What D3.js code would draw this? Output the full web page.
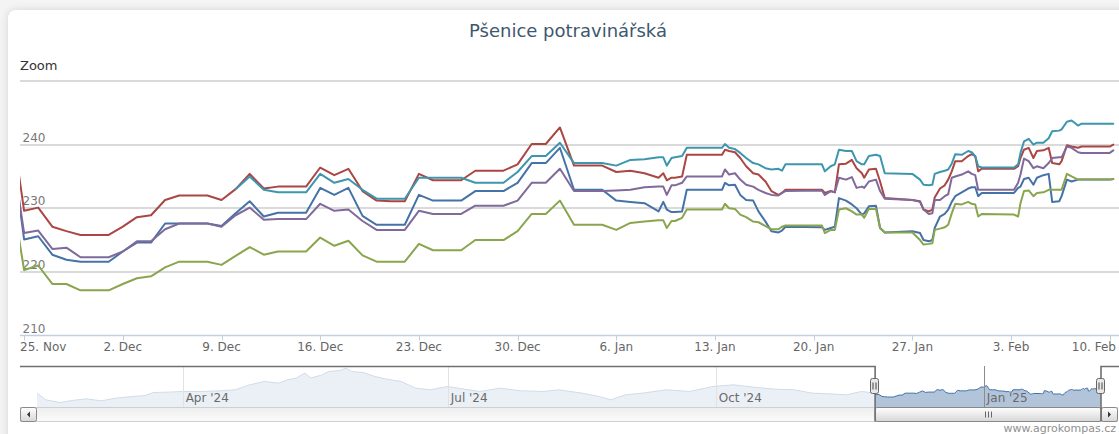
<!DOCTYPE html>
<html>
<head>
<meta charset="utf-8">
<script src="https://cdn.jsdelivr.net/npm/d3@7"></script>
<style>
    body { margin: 0; background: #f4f4f4; font-family: "DejaVu Sans", Verdana, sans-serif; overflow: hidden; }
    #card { position: absolute; left: 8px; top: 10px; width: 1150px; height: 470px; background: #fff;
            border-radius: 8px; box-shadow: 0 0 9px rgba(0,0,0,0.13); }
    #chart { position: absolute; left: 0; top: 0; }
</style>
</head>
<body>
<div id="card"></div>
<svg id="chart" width="1119" height="434"></svg>
<script>
// shared time stamps of the zoomed series (UTC)
var times = [
    "2024-11-24","2024-11-25","2024-11-26","2024-11-27","2024-11-28","2024-11-29","2024-11-30",
    "2024-12-01","2024-12-02","2024-12-03","2024-12-04","2024-12-05","2024-12-06","2024-12-07",
    "2024-12-08","2024-12-09","2024-12-10","2024-12-11","2024-12-12","2024-12-13","2024-12-14",
    "2024-12-15","2024-12-16","2024-12-17","2024-12-18","2024-12-19","2024-12-20","2024-12-21",
    "2024-12-22","2024-12-23","2024-12-24","2024-12-25","2024-12-26","2024-12-27","2024-12-28",
    "2024-12-29","2024-12-30","2024-12-31","2025-01-01","2025-01-02","2025-01-03","2025-01-04",
    "2025-01-05","2025-01-06","2025-01-07","2025-01-08","2025-01-09",
    "2025-01-09 08:00","2025-01-09 14:00","2025-01-09 22:00","2025-01-10 04:00","2025-01-10 16:00","2025-01-11 00:00",
    "2025-01-13 12:00","2025-01-13 17:00","2025-01-14 00:00","2025-01-14 10:00","2025-01-14 19:00",
    "2025-01-15 05:00","2025-01-15 17:00","2025-01-16 02:00","2025-01-16 14:00","2025-01-17 00:00",
    "2025-01-17 12:00","2025-01-17 18:00","2025-01-18 00:00","2025-01-20 14:00","2025-01-20 19:00",
    "2025-01-21 05:00","2025-01-21 12:00","2025-01-21 19:00","2025-01-22 07:00","2025-01-22 17:00",
    "2025-01-23 01:00","2025-01-23 10:00","2025-01-23 14:00","2025-01-23 22:00","2025-01-24 10:00",
    "2025-01-24 17:00","2025-01-25 01:00","2025-01-27 00:00","2025-01-27 13:00","2025-01-27 19:00",
    "2025-01-28 04:00","2025-01-28 10:00","2025-01-28 14:00","2025-01-28 23:00","2025-01-29 07:00",
    "2025-01-29 13:00","2025-01-29 19:00","2025-01-30 01:00","2025-01-30 12:00","2025-01-30 23:00",
    "2025-01-31 05:00","2025-01-31 11:00","2025-01-31 16:00","2025-01-31 22:00","2025-02-03 05:00",
    "2025-02-03 12:00","2025-02-03 16:00","2025-02-03 22:00","2025-02-04 06:00","2025-02-04 14:00",
    "2025-02-04 20:00","2025-02-05 07:00","2025-02-05 16:00","2025-02-05 22:00","2025-02-06 10:00",
    "2025-02-06 14:00","2025-02-06 23:00","2025-02-07 07:00","2025-02-07 18:00","2025-02-08 00:00",
    "2025-02-10 00:00","2025-02-10 06:00"
];

var blueValues = [
    241.6,225.1,225.6,222.7,221.9,221.6,221.6,221.6,223.2,224.6,224.6,227.6,227.6,227.6,227.6,227.2,
    229.2,231.1,228.7,229.3,229.3,229.3,233.2,232.1,233.2,228.8,227.4,227.4,227.4,232.1,231.2,231.2,
    231.2,232.7,232.7,232.7,234.0,237.1,237.1,239.5,232.9,232.9,232.9,231.2,231.0,230.8,229.5,
    231.0,229.8,229.4,229.4,229.5,232.9,
    232.9,234.0,233.6,233.7,232.1,
    231.3,231.2,229.5,227.9,226.4,
    226.2,226.5,227.1,227.0,226.6,
    226.9,227.1,231.6,231.2,230.6,
    230.0,229.0,229.2,230.3,230.4,
    226.9,226.2,226.4,226.1,225.0,
    224.8,225.0,226.9,228.7,229.1,
    229.8,231.0,231.9,232.5,233.1,
    233.3,233.3,231.9,232.4,232.4,
    233.2,233.4,234.6,234.8,233.7,
    234.8,235.2,235.4,231.0,231.1,
    231.9,234.5,234.2,234.5,234.5,
    234.5,234.6
];

var redValues = [
    245.1,229.6,230.1,227.1,226.4,225.8,225.8,225.8,227.1,228.6,228.9,231.3,232.0,232.0,232.0,231.3,
    233.0,235.4,233.1,233.4,233.4,233.4,236.4,235.2,236.2,232.7,231.2,231.1,231.1,235.4,234.4,234.4,
    234.4,235.9,235.9,235.9,236.9,240.1,240.1,242.7,236.7,236.7,236.7,235.7,235.9,235.5,234.8,
    235.5,234.4,234.8,234.8,235.0,238.4,
    238.4,239.2,239.0,238.8,237.9,
    236.6,235.5,235.3,234.2,232.7,
    232.1,232.4,232.9,232.9,232.4,
    232.7,232.5,236.9,237.0,237.6,
    236.3,235.5,234.8,236.1,236.2,
    234.2,231.6,231.3,231.1,229.8,
    229.5,229.8,231.7,233.1,233.6,
    234.5,235.8,237.4,237.4,238.2,
    238.5,238.2,235.8,236.2,236.2,
    236.6,237.9,239.2,239.5,237.9,
    239.0,239.1,239.5,237.1,236.9,
    237.4,239.9,239.7,239.5,239.7,
    239.7,240.0
];

var greenValues = [
    234.0,220.3,221.0,218.1,218.1,217.1,217.1,217.1,218.1,219.0,219.3,220.7,221.6,221.6,221.6,221.1,
    222.5,223.9,222.7,223.2,223.2,223.2,225.4,224.1,224.9,222.6,221.6,221.6,221.6,224.4,223.4,223.4,
    223.4,225.0,225.0,225.0,226.4,229.1,229.1,231.2,227.4,227.4,227.4,226.6,227.7,227.9,228.1,
    228.1,226.9,228.0,228.0,228.5,229.8,
    229.8,230.7,230.0,229.9,229.0,
    228.6,227.9,227.8,227.2,226.7,
    226.7,227.1,227.3,227.3,226.1,
    226.6,226.6,229.8,230.0,229.5,
    229.0,229.0,228.5,229.9,229.9,
    226.9,226.2,226.2,225.0,224.3,
    224.4,224.5,226.6,226.8,227.0,
    227.4,229.2,230.7,230.6,231.0,
    230.7,230.6,228.7,229.1,229.0,
    228.7,230.8,232.7,232.8,231.9,
    232.4,232.5,232.9,232.9,232.9,
    232.9,235.4,235.0,234.5,234.5,
    234.5,234.6
];

var purpleValues = [
    240.9,226.1,226.5,223.6,223.8,222.3,222.3,222.3,223.2,224.8,224.8,226.7,227.6,227.6,227.6,227.1,
    228.9,230.1,228.2,228.3,228.3,228.3,230.7,229.6,229.8,228.0,226.6,226.6,226.6,229.6,229.1,229.1,
    229.1,230.4,230.4,230.4,231.2,234.0,234.0,236.2,232.7,232.7,232.7,232.8,232.9,233.3,233.4,
    233.4,232.1,233.6,233.6,234.0,235.0,
    235.0,236.1,235.3,235.5,234.5,
    233.7,233.4,232.9,232.4,232.1,
    232.0,232.4,232.7,232.8,232.1,
    232.7,232.5,234.8,234.5,234.9,
    233.2,233.4,233.2,234.2,234.5,
    232.7,231.5,231.3,231.0,229.8,
    229.1,229.2,231.3,231.3,231.9,
    232.2,234.8,235.0,235.3,235.8,
    235.4,235.2,232.9,232.9,232.9,
    234.0,235.3,237.8,237.4,236.3,
    236.6,236.3,237.1,237.9,238.0,
    238.0,239.7,239.5,238.8,238.7,
    238.7,239.1
];

var cyanValues = [
    null,null,null,null,null,null,null,null,null,null,null,null,null,null,null,null,
    233.0,235.0,232.9,232.5,232.5,232.5,235.4,234.0,234.6,232.9,231.5,231.5,231.5,234.8,234.8,234.8,
    234.8,234.0,234.0,234.0,235.7,238.2,238.2,240.3,237.1,237.1,237.1,236.7,237.6,237.7,238.0,
    238.0,236.7,237.9,238.0,238.2,239.5,
    239.5,240.1,239.5,239.3,238.7,
    237.9,237.1,236.9,236.3,236.1,
    236.2,235.9,236.9,236.9,235.8,
    236.6,236.9,239.2,239.0,239.0,
    237.4,236.9,236.9,238.2,238.4,
    238.2,235.5,235.4,234.5,233.7,
    233.6,233.7,235.4,235.7,235.9,
    236.1,237.0,238.5,238.4,239.0,
    238.8,238.2,236.6,236.4,236.4,
    236.9,238.7,240.5,240.9,240.0,
    240.3,240.3,241.0,242.1,242.2,
    242.4,243.6,243.8,243.0,243.3,
    243.3,243.3
];

// longer history of the first series, shown only in the navigator
var navTimes = [
    "2024-02-11","2024-02-14","2024-02-19","2024-02-23","2024-02-28","2024-03-04","2024-03-09",
    "2024-03-15","2024-03-19","2024-03-22","2024-03-27","2024-04-01","2024-04-07","2024-04-14",
    "2024-04-19","2024-04-24","2024-04-29","2024-05-04","2024-05-07","2024-05-10","2024-05-13",
    "2024-05-15","2024-05-19","2024-05-21","2024-05-25","2024-05-27","2024-05-29","2024-06-02",
    "2024-06-06","2024-06-10","2024-06-15","2024-06-20","2024-06-25","2024-07-01","2024-07-06",
    "2024-07-12","2024-07-19","2024-07-26","2024-08-03","2024-08-08","2024-08-16","2024-08-22",
    "2024-08-26","2024-08-31","2024-09-06","2024-09-14","2024-09-22","2024-09-30","2024-10-07",
    "2024-10-14","2024-10-21","2024-10-28","2024-11-03","2024-11-11","2024-11-15","2024-11-20",
    "2024-11-23"
];
var navValues = [
    227.7,217.2,213.0,216.1,218.8,215.6,219.8,
    222.4,223.9,228.6,229.2,230.2,230.2,231.3,
    232.8,240.6,245.8,243.3,248.4,251.1,258.9,
    251.1,256.3,261.4,263.0,266.7,261.4,259.8,
    253.6,249.5,245.8,235.4,232.8,238.0,234.4,
    230.2,235.4,231.3,230.2,232.8,227.7,222.4,
    217.2,225.0,227.7,232.8,230.2,238.0,240.6,
    237.0,233.9,232.8,227.7,226.1,225.0,230.2,
    228.6
];

var yTicks = [210, 220, 230, 240, 250];
var viewRange = ["2024-11-24 17:00", "2025-02-10 14:00"];

var parseTime = d3.utcParse("%Y-%m-%d %H:%M");
function toDate(s) { return parseTime(s.length > 10 ? s : s + " 00:00"); }

var svg = d3.select("#chart");
var plot = {left: 20, right: 1118, top: 81, bottom: 335.5};

var x = d3.scaleUtc()
    .domain(viewRange.map(toDate))
    .range([plot.left, plot.right]);
var y = d3.scaleLinear()
    .domain([210, 250])
    .range([plot.bottom, plot.top]);

// title and range selector label
svg.append("text")
    .attr("x", 568).attr("y", 37)
    .attr("text-anchor", "middle")
    .style("font-size", "18px")
    .style("fill", "#3E576F")
    .text("Pšenice potravinářská");

svg.append("text")
    .attr("x", 20).attr("y", 70)
    .style("font-size", "13px")
    .style("fill", "#333")
    .text("Zoom");

// grid lines
svg.append("g")
    .selectAll("line")
    .data(yTicks.filter(function(d){ return d > 210; }))
    .enter().append("line")
    .attr("x1", plot.left).attr("x2", 1119)
    .attr("y1", function(d){ return Math.round(y(d)) - 1; })
    .attr("y2", function(d){ return Math.round(y(d)) - 1; })
    .attr("stroke", "#dadada")
    .attr("stroke-width", 2)
    .attr("transform", "translate(0,1)");

svg.append("g")
    .selectAll("text")
    .data(yTicks.filter(function(d){ return d < 250; }))
    .enter().append("text")
    .attr("x", 22.5)
    .attr("y", function(d){ return y(d) - 3; })
    .style("font-size", "12px")
    .style("fill", "#777")
    .text(function(d){ return d; });

// x axis
var xAxis = svg.append("g").attr("class", "x-axis");
xAxis.append("line")
    .attr("x1", plot.left).attr("x2", 1119)
    .attr("y1", plot.bottom).attr("y2", plot.bottom)
    .attr("stroke", "#C0D0E0").attr("stroke-width", 1.5);

var xTicks = x.ticks(d3.utcMonday.every(1));
var fmt = d3.utcFormat("%-d. %b");
xAxis.selectAll(".tick")
    .data(xTicks)
    .enter().append("line")
    .attr("x1", function(d){ return Math.round(x(d)) + 0.5; })
    .attr("x2", function(d){ return Math.round(x(d)) + 0.5; })
    .attr("y1", plot.bottom).attr("y2", plot.bottom + 5)
    .attr("stroke", "#C0D0E0");

xAxis.selectAll(".lbl")
    .data(xTicks)
    .enter().append("text")
    .attr("y", 351)
    .style("font-size", "12px")
    .style("fill", "#666")
    .text(function(d){ return fmt(d); })
    .each(function(d){
        var w = this.getComputedTextLength();
        var cx = x(d) - w / 2;
        cx = Math.max(plot.left, Math.min(cx, 1116 - w));
        d3.select(this).attr("x", cx);
    });

// series lines
svg.append("clipPath").attr("id", "plot-clip")
    .append("rect")
    .attr("x", plot.left).attr("y", plot.top - 4)
    .attr("width", plot.right - plot.left).attr("height", plot.bottom - plot.top + 4);

var dates = times.map(toDate);
var seriesList = [
    {color: "#4572A7", values: blueValues},
    {color: "#AA4643", values: redValues},
    {color: "#89A54E", values: greenValues},
    {color: "#80699B", values: purpleValues},
    {color: "#3D96AE", values: cyanValues}
];

var line = d3.line()
    .defined(function(d){ return d[1] != null; })
    .x(function(d){ return x(d[0]); })
    .y(function(d){ return y(d[1]); });

var linesG = svg.append("g").attr("clip-path", "url(#plot-clip)");
seriesList.forEach(function(s){
    linesG.append("path")
        .datum(dates.map(function(t, i){ return [t, s.values[i]]; }))
        .attr("d", line)
        .attr("fill", "none")
        .attr("stroke", s.color)
        .attr("stroke-width", 2)
        .attr("stroke-linejoin", "round")
        .attr("stroke-linecap", "round");
});

// navigator
var nav = {left: 37, right: 1101, top: 366, bottom: 407};
var navData = navTimes.map(function(t, i){ return [toDate(t), navValues[i]]; })
    .concat(dates.map(function(t, i){ return [t, blueValues[i]]; }));

var nx = d3.scaleUtc()
    .domain(d3.extent(navData, function(d){ return d[0]; }))
    .range([nav.left, nav.right]);
var ny = d3.scaleLinear()
    .domain([206, 270])
    .range([nav.bottom, nav.top]);

var navG = svg.append("g");
navG.append("path")
    .datum(navData)
    .attr("d", d3.area()
        .x(function(d){ return nx(d[0]); })
        .y0(nav.bottom)
        .y1(function(d){ return ny(d[1]); }))
    .attr("fill", "#4572A7")
    .attr("fill-opacity", 0.42);

navG.append("path")
    .datum(navData)
    .attr("d", d3.line()
        .x(function(d){ return nx(d[0]); })
        .y(function(d){ return ny(d[1]); }))
    .attr("fill", "none")
    .attr("stroke", "#4572A7")
    .attr("stroke-width", 1);

var navTicks = nx.ticks(d3.utcMonth.every(3));
navG.selectAll(".ngrid")
    .data(navTicks)
    .enter().append("line")
    .attr("x1", function(d){ return Math.round(nx(d)) + 0.5; })
    .attr("x2", function(d){ return Math.round(nx(d)) + 0.5; })
    .attr("y1", nav.top).attr("y2", nav.bottom)
    .attr("stroke", "#8c8c8c");

var selStart = nx(x.domain()[0]);
var selEnd = Math.min(nx(x.domain()[1]), nav.right);

// mask over the unselected parts
navG.append("rect")
    .attr("x", nav.left).attr("y", nav.top)
    .attr("width", selStart - nav.left).attr("height", nav.bottom - nav.top)
    .attr("fill", "rgba(255,255,255,0.75)");
navG.append("rect")
    .attr("x", selEnd).attr("y", nav.top)
    .attr("width", Math.max(0, nav.right - selEnd)).attr("height", nav.bottom - nav.top)
    .attr("fill", "rgba(255,255,255,0.75)");

var navFmt = d3.utcFormat("%b '%y");
navG.selectAll(".nlbl")
    .data(navTicks)
    .enter().append("text")
    .attr("x", function(d){ return nx(d) + 3; })
    .attr("y", 402)
    .style("font-size", "12px")
    .style("fill", "#6a6a6a")
    .text(function(d){ return navFmt(d); });

// scrollbar
var defs = svg.append("defs");
var grad = defs.append("linearGradient").attr("id", "btn-grad")
    .attr("x1", 0).attr("y1", 0).attr("x2", 0).attr("y2", 1);
grad.append("stop").attr("offset", "0%").attr("stop-color", "#ffffff");
grad.append("stop").attr("offset", "100%").attr("stop-color", "#d6d6d6");
var trackGrad = defs.append("linearGradient").attr("id", "track-grad")
    .attr("x1", 0).attr("y1", 0).attr("x2", 0).attr("y2", 1);
trackGrad.append("stop").attr("offset", "0%").attr("stop-color", "#eeeeee");
trackGrad.append("stop").attr("offset", "100%").attr("stop-color", "#fbfbfb");

var sb = {top: 407.5, h: 14};
navG.append("rect")
    .attr("x", plot.left + 0.5).attr("y", sb.top)
    .attr("width", plot.right - plot.left - 1).attr("height", sb.h)
    .attr("fill", "url(#track-grad)")
    .attr("stroke", "#cfcfcf");

navG.append("rect")
    .attr("x", selStart).attr("y", sb.top)
    .attr("width", selEnd - selStart).attr("height", sb.h)
    .attr("rx", 2)
    .attr("fill", "url(#btn-grad)")
    .attr("stroke", "#888");

var gripX = (selStart + selEnd) / 2;
[-3, 0, 3].forEach(function(dx){
    navG.append("line")
        .attr("x1", Math.round(gripX + dx) + 0.5).attr("x2", Math.round(gripX + dx) + 0.5)
        .attr("y1", sb.top + 4).attr("y2", sb.top + 10)
        .attr("stroke", "#666");
});

[[plot.left + 0.5, -1], [nav.right + 0.5, 1]].forEach(function(b){
    navG.append("rect")
        .attr("x", b[0]).attr("y", sb.top)
        .attr("width", 16).attr("height", sb.h)
        .attr("rx", 2)
        .attr("fill", "url(#btn-grad)")
        .attr("stroke", "#888");
    var cx = b[0] + 8, cy = sb.top + sb.h / 2;
    navG.append("path")
        .attr("d", "M" + (cx - 1.5 * b[1]) + "," + (cy - 3) + "L" + (cx + 1.5 * b[1]) + "," + cy +
            "L" + (cx - 1.5 * b[1]) + "," + (cy + 3) + "Z")
        .attr("fill", "#333");
});

// outline
navG.append("path")
    .attr("d", "M" + plot.left + "," + (nav.top + 0.5) + "H" + selStart + "V" + (sb.top + sb.h) +
        "M" + selEnd + "," + (sb.top + sb.h) + "V" + (nav.top + 0.5) + "H" + 1119)
    .attr("fill", "none")
    .attr("stroke", "#707070")
    .attr("stroke-width", 1.6);

// handles
[selStart, selEnd].forEach(function(hx){
    var h = navG.append("g").attr("transform", "translate(" + Math.round(hx) + ",0)");
    h.append("rect")
        .attr("x", -4.5).attr("y", 378.5)
        .attr("width", 8).attr("height", 15)
        .attr("rx", 2)
        .attr("fill", "#ebe7e8")
        .attr("stroke", "#666");
    [-1.5, 1.5].forEach(function(dx){
        h.append("line")
            .attr("x1", dx - 0.5).attr("x2", dx - 0.5)
            .attr("y1", 382.5).attr("y2", 389.5)
            .attr("stroke", "#444");
    });
});

// credits
svg.append("text")
    .attr("x", 1116).attr("y", 432)
    .attr("text-anchor", "end")
    .style("font-size", "11px")
    .style("fill", "#909090")
    .text("www.agrokompas.cz");
</script>
</body>
</html>
